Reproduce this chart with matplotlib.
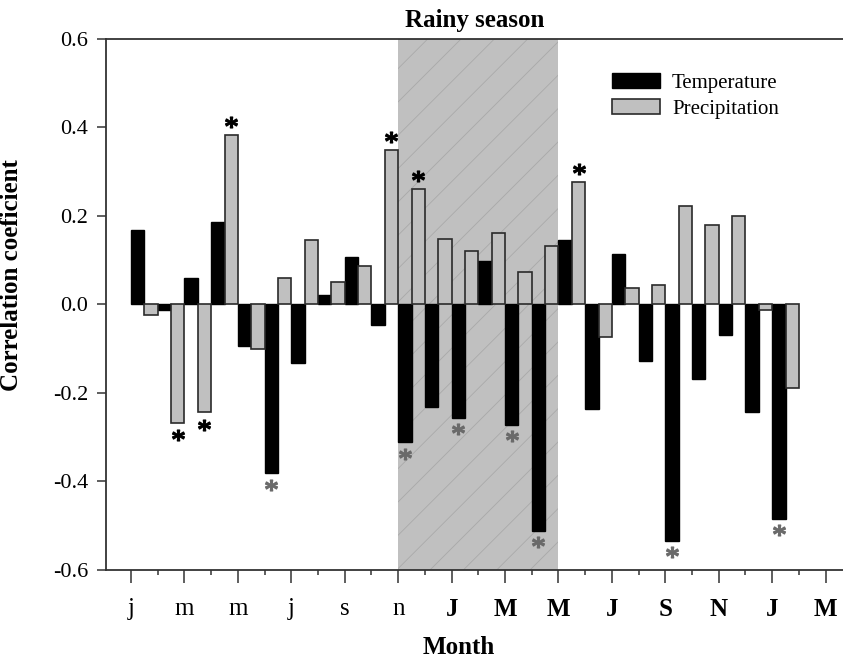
import numpy as np
import matplotlib
matplotlib.use('Agg')
import matplotlib.pyplot as plt
from matplotlib.patches import Patch

plt.rcParams['font.family'] = ['Liberation Serif', 'DejaVu Serif']
plt.rcParams['mathtext.fontset'] = 'custom'
plt.rcParams['mathtext.rm'] = 'Liberation Serif'
plt.rcParams['hatch.linewidth'] = 0.6

# correlation coefficients, one pair per month (Jan yr1 .. Jan yr3)
months = np.arange(25)
temperature = [0.167, -0.014, 0.059, 0.186, -0.094, -0.382, -0.133, 0.021, 0.107,
               -0.047, -0.312, -0.233, -0.257, 0.098, -0.273, -0.512, 0.146, -0.237,
               0.114, -0.129, -0.534, -0.168, -0.070, -0.244, -0.485]
precipitation = [-0.024, -0.267, -0.244, 0.382, -0.102, 0.059, 0.144, 0.050, 0.086,
                 0.349, 0.261, 0.148, 0.120, 0.161, 0.073, 0.131, 0.277, -0.075,
                 0.036, 0.044, 0.222, 0.179, 0.199, -0.013, -0.190]
temp_sig = [5, 10, 12, 14, 15, 20, 24]
precip_sig = [1, 2, 3, 9, 10, 16]

tick_pos = np.arange(0, 27, 2)
tick_labels = ['j', 'm', 'm', 'j', 's', 'n', 'J', 'M', 'M', 'J', 'S', 'N', 'J', 'M']
rainy = (10, 16)

fig = plt.figure(figsize=(8.43, 6.59), dpi=100)
ax = fig.add_axes([106 / 843, 89 / 659, 737 / 843, 531.5 / 659])

# rainy season band
ax.axvspan(rainy[0], rainy[1], facecolor='#c0c0c0', edgecolor='#a9a9a9',
           hatch='/', linewidth=0, zorder=0)

ax.bar(months, temperature, width=0.5, align='edge', color='black',
       edgecolor='black', linewidth=1.0, zorder=2, label='Temperature')
ax.bar(months + 0.5, precipitation, width=0.5, align='edge', color='#c0c0c0',
       edgecolor='#2a2a2a', linewidth=1.2, zorder=2, label='Precipitation')

# significance asterisks
ps = np.array(precipitation)[precip_sig]
ax.plot(np.array(precip_sig) + 0.75, ps + np.sign(ps) * 0.029, ls='none',
        marker=r'$\mathrm{*}$', ms=8.5, color='black', zorder=3)
ts = np.array(temperature)[temp_sig]
ax.plot(np.array(temp_sig) + 0.25, ts + np.sign(ts) * 0.025, ls='none',
        marker=r'$\mathrm{*}$', ms=8.5, color='#6a6a6a', zorder=3)

ax.set_xlim(-0.936, 26.65)
ax.set_ylim(-0.6, 0.6)
ax.set_yticks(np.arange(-0.6, 0.61, 0.2))
ax.set_yticklabels(['%.1f' % v for v in np.arange(-0.6, 0.61, 0.2)])
ax.set_xticks(tick_pos)
ax.set_xticks(np.arange(1, 27, 2), minor=True)
ax.set_xticklabels(tick_labels)
for lab in ax.get_xticklabels():
    if lab.get_text().isupper():
        lab.set_fontweight('bold')

ax.tick_params(axis='x', which='major', direction='out', length=9, width=1.1,
               color='#333333', labelsize=18, pad=11)
ax.tick_params(axis='x', which='minor', direction='out', length=3.6, width=1.1,
               color='#333333')
ax.tick_params(axis='y', direction='out', length=6.3, width=1.1, color='#333333',
               labelsize=16, pad=6.5)

for s in ['left', 'top', 'bottom']:
    ax.spines[s].set_color('#333333')
    ax.spines[s].set_linewidth(1.3)
ax.spines['right'].set_visible(False)

ax.set_title('Rainy season', fontsize=18, fontweight='bold', pad=8)
ax.set_xlabel('Month', fontsize=18, fontweight='bold')
ax.xaxis.set_label_coords(0.479, -0.125)
ax.set_ylabel('Correlation coeficient', fontsize=18, fontweight='bold')
ax.yaxis.set_label_coords(-0.113, 0.555)

handles = [Patch(facecolor='black', edgecolor='black', label='Temperature'),
           Patch(facecolor='#c0c0c0', edgecolor='#2a2a2a', linewidth=1.2,
                 label='Precipitation')]
ax.legend(handles=handles, loc='upper left', bbox_to_anchor=(0.6866, 0.935),
          frameon=False, fontsize=15, borderpad=0, borderaxespad=0,
          handlelength=2.3, handleheight=0.75, handletextpad=0.58,
          labelspacing=0.28)

fig.savefig('out.png', dpi=100)
